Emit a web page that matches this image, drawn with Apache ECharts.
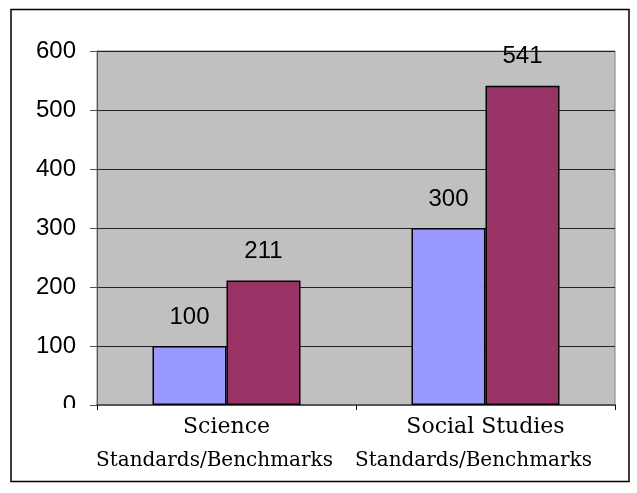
<!DOCTYPE html>
<html>
<head>
<meta charset="utf-8">
<script src="https://cdn.jsdelivr.net/npm/echarts@6/dist/echarts.min.js"></script>
<style>
  html, body { margin: 0; padding: 0; background: #fff; }
  #chart { width: 637px; height: 493px; }
</style>
</head>
<body>
<div id="chart"></div>
<script>
// Subject areas along the x axis (two-line labels)
const categories = ['Science', 'Social Studies'];
const subLabel = 'Standards/Benchmarks';

// Two series per subject
const seriesA = [100, 300];
const seriesB = [211, 541];

// Value axis
const yMin = 0;
const yMax = 600;
const yStep = 100;

const chart = echarts.init(document.getElementById('chart'), null, { renderer: 'canvas' });

const labelStyle = {
  show: true,
  position: 'top',
  distance: 17,
  fontFamily: 'Liberation Sans, Arial, sans-serif',
  fontSize: 24,
  color: '#000'
};

chart.setOption({
  animation: false,
  backgroundColor: '#fff',
  grid: {
    left: 97, top: 51, right: 22, bottom: 88,
    show: true,
    backgroundColor: '#C0C0C0',
    borderColor: '#808080',
    borderWidth: 1
  },
  xAxis: {
    type: 'category',
    data: categories,
    axisLine: { lineStyle: { color: '#555', width: 2 } },
    axisTick: { show: true, length: 5, lineStyle: { color: '#000' } },
    axisLabel: {
      margin: 8,
      interval: 0,
      formatter: v => '{a|' + v + '}\n{b|' + subLabel + '}',
      rich: {
        a: { fontFamily: 'DejaVu Serif, serif', fontSize: 22, color: '#000', lineHeight: 28 },
        // second line sits a little left of the subject name
        b: { fontFamily: 'DejaVu Serif, serif', fontSize: 20, color: '#000', lineHeight: 40, padding: [0, 24, 0, 0] }
      }
    }
  },
  yAxis: {
    type: 'value',
    min: yMin, max: yMax, interval: yStep,
    axisLine: { show: true, lineStyle: { color: '#555', width: 1 } },
    axisTick: { show: true, length: 7, lineStyle: { color: '#555' } },
    axisLabel: {
      margin: 21,
      fontFamily: 'Liberation Sans, Arial, sans-serif',
      fontSize: 24,
      color: '#000'
    },
    splitLine: { show: true, lineStyle: { color: '#222', width: 1 } }
  },
  series: [
    {
      type: 'bar',
      data: seriesA,
      barWidth: 74,
      barGap: '0%',
      itemStyle: { color: '#9999FF', borderColor: '#000', borderWidth: 1.5 },
      label: labelStyle
    },
    {
      type: 'bar',
      data: seriesB,
      barWidth: 74,
      barGap: '0%',
      itemStyle: { color: '#993366', borderColor: '#000', borderWidth: 1.5 },
      label: labelStyle
    }
  ],
  graphic: [
    {
      type: 'rect',
      shape: { x: 11, y: 9.5, width: 618, height: 472 },
      style: { fill: 'none', stroke: '#000', lineWidth: 1.5 },
      silent: true,
      z: 100
    },
    {
      // white strip that trims the lower edge of the "0" tick label
      type: 'rect',
      shape: { x: 40, y: 408, width: 48, height: 16 },
      style: { fill: '#fff' },
      silent: true,
      z: 100
    }
  ]
});
</script>
</body>
</html>
